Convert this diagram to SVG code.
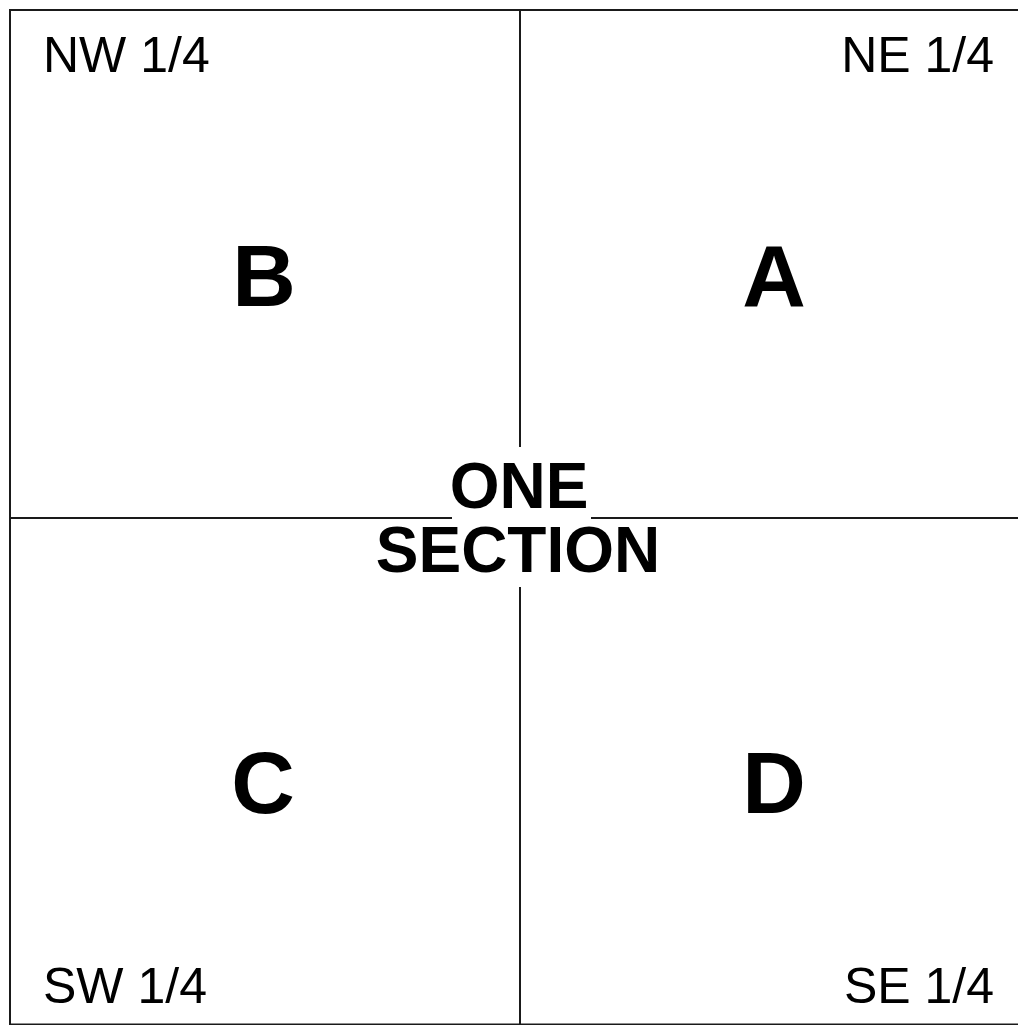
<svg xmlns="http://www.w3.org/2000/svg" width="1018" height="1025" viewBox="0 0 1018 1025">
<style>
.ln{stroke:#1a1a1a;stroke-width:2;fill:none}
.q{font-family:"Liberation Sans",Arial,sans-serif;font-size:50px;fill:#000}
.big{font-family:"Liberation Sans",Arial,sans-serif;font-size:88px;font-weight:bold;fill:#000;text-anchor:middle}
.ttl{font-family:"Liberation Sans",Arial,sans-serif;font-size:64px;font-weight:bold;fill:#000;text-anchor:middle}
</style>
<rect width="1018" height="1025" fill="#fff"/>
<g id="connectors">
<path class="ln" d="M1030,10 H10 V1024.5 H1030"/>
<line class="ln" x1="520" y1="10" x2="520" y2="447"/>
<line class="ln" x1="520" y1="587" x2="520" y2="1025"/>
<line class="ln" x1="10" y1="518" x2="452" y2="518"/>
<line class="ln" x1="591" y1="518" x2="1018" y2="518"/>
</g>
<g id="nw"><text class="q" x="43" y="72">NW 1/4</text><text class="big" x="264" y="306">B</text></g>
<g id="ne"><text class="q" x="994" y="72" text-anchor="end">NE 1/4</text><text class="big" x="774" y="306">A</text></g>
<g id="sw"><text class="q" x="43" y="1003">SW 1/4</text><text class="big" x="263" y="813">C</text></g>
<g id="se"><text class="q" x="994" y="1003" text-anchor="end">SE 1/4</text><text class="big" x="774" y="813">D</text></g>
<g id="title"><text class="ttl" x="519" y="508">ONE</text><text class="ttl" x="518" y="572">SECTION</text></g>
</svg>
